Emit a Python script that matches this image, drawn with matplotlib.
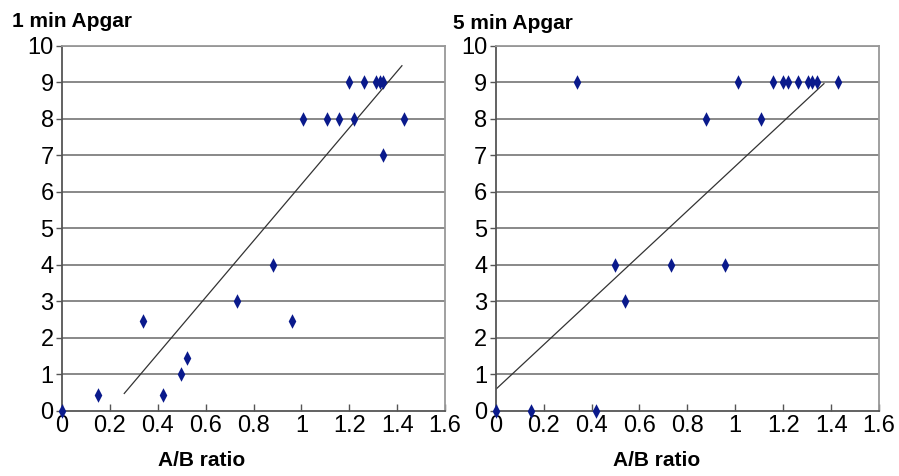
import matplotlib
matplotlib.use("Agg")
import matplotlib.pyplot as plt

plt.rcParams['font.family'] = ['Liberation Sans', 'DejaVu Sans']

# *
# Data
# *
ratio_1min = [0, 0.149, 0.337, 0.42, 0.499, 0.523, 0.731, 0.88, 0.959,
              1.008, 1.108, 1.158, 1.22, 1.43,
              1.2, 1.263, 1.312, 1.328, 1.342, 1.342]
apgar_1min = [0, 0.45, 2.45, 0.45, 1.0, 1.45, 3, 4, 2.45,
              8, 8, 8, 8, 8,
              9, 9, 9, 9, 9, 7]
trend_1min_x = [0.26, 1.42]
trend_1min_y = [0.48, 9.45]

ratio_5min = [0, 0.149, 0.42, 0.499, 0.538, 0.73, 0.958, 0.879, 1.107,
              0.338, 1.011, 1.159, 1.198, 1.219, 1.26, 1.305, 1.319, 1.341, 1.43]
apgar_5min = [0, 0, 0, 4, 3, 4, 4, 8, 8,
              9, 9, 9, 9, 9, 9, 9, 9, 9, 9]
trend_5min_x = [0.0, 1.37]
trend_5min_y = [0.59, 8.96]

x_ticks = [0, 0.2, 0.4, 0.6, 0.8, 1, 1.2, 1.4, 1.6]
x_ticklabels = ['0', '0.2', '0.4', '0.6', '0.8', '1', '1.2', '1.4', '1.6']
y_ticks = list(range(0, 11))

panels = [
    ("1 min Apgar", ratio_1min, apgar_1min, trend_1min_x, trend_1min_y),
    ("5 min Apgar", ratio_5min, apgar_5min, trend_5min_x, trend_5min_y),
]

fig = plt.figure(figsize=(8.99, 4.76), dpi=100)

ax_pos = [[0.069, 0.1366, 0.426, 0.7675],
          [0.5514, 0.1366, 0.4264, 0.7675]]
title_pos = [(0.013, 0.943), (0.504, 0.940)]
xlabel_pos = [(0.224, 0.033), (0.730, 0.033)]

# narrow diamond like the spreadsheet marker
diamond = [(0, 1), (0.52, 0), (0, -1), (-0.52, 0), (0, 1)]

def drawPanel(ax, title, xs, ys, tx, ty, tpos, lpos):
    # gridlines
    for yv in y_ticks[1:]:
        ax.axhline(yv, color='#7f7f7f', lw=1.3, zorder=1)

    ax.plot(tx, ty, color='#333333', lw=0.9, zorder=2)
    ax.plot(xs, ys, linestyle='none', marker=diamond, markersize=10.5,
            color='#0a1a8c', markeredgewidth=0, zorder=3, clip_on=False)

    ax.set_xlim(0, 1.6)
    ax.set_ylim(0, 10)
    ax.set_xticks(x_ticks)
    ax.set_xticklabels(x_ticklabels)
    ax.set_yticks(y_ticks)

    ax.tick_params(axis='x', direction='in', length=5, width=1, color='#555555',
                   labelsize=17, pad=3)
    ax.tick_params(axis='y', direction='out', length=4, width=1, color='#555555',
                   labelsize=17, pad=2)

    ax.spines['left'].set_color('#555555')
    ax.spines['bottom'].set_color('#555555')
    ax.spines['top'].set_color('#999999')
    ax.spines['right'].set_color('#999999')
    for s in ax.spines.values():
        s.set_linewidth(1.3)

    fig.text(tpos[0], tpos[1], title, fontsize=15, fontweight='bold', ha='left', va='baseline')
    fig.text(lpos[0], lpos[1], "A/B ratio", fontsize=15, fontweight='bold', ha='center', va='center')


for i in range(len(panels)):
    ax = fig.add_axes(ax_pos[i])
    title, xs, ys, tx, ty = panels[i]
    drawPanel(ax, title, xs, ys, tx, ty, title_pos[i], xlabel_pos[i])

fig.savefig("out.png", dpi=100)
